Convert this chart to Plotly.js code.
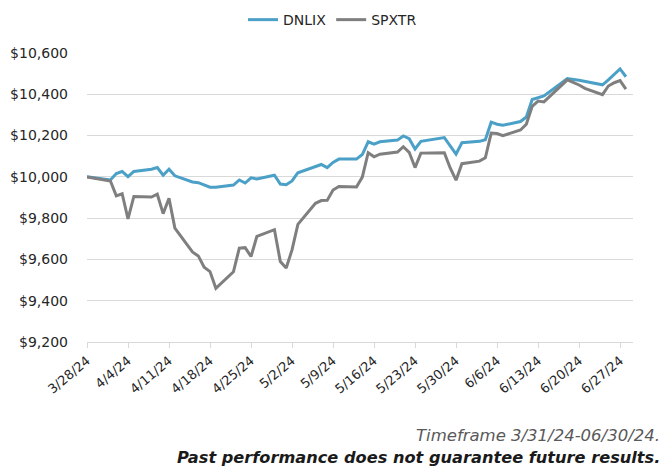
<!DOCTYPE html>
<html>
<head>
<meta charset="utf-8">
<script src="https://cdn.plot.ly/plotly-3.0.1.min.js"></script>
<style>
  html, body { margin: 0; padding: 0; background: #ffffff; }
  #chart { width: 665px; height: 466px; }
</style>
</head>
<body>
<div id="chart"></div>
<script>
var dates = [
  "2024-03-28",
  "2024-04-01","2024-04-02","2024-04-03","2024-04-04","2024-04-05",
  "2024-04-08","2024-04-09","2024-04-10","2024-04-11","2024-04-12",
  "2024-04-15","2024-04-16","2024-04-17","2024-04-18","2024-04-19",
  "2024-04-22","2024-04-23","2024-04-24","2024-04-25","2024-04-26",
  "2024-04-29","2024-04-30","2024-05-01","2024-05-02","2024-05-03",
  "2024-05-06","2024-05-07","2024-05-08","2024-05-09","2024-05-10",
  "2024-05-13","2024-05-14","2024-05-15","2024-05-16","2024-05-17",
  "2024-05-20","2024-05-21","2024-05-22","2024-05-23","2024-05-24",
  "2024-05-28","2024-05-29","2024-05-30","2024-05-31",
  "2024-06-03","2024-06-04","2024-06-05","2024-06-06","2024-06-07",
  "2024-06-10","2024-06-11","2024-06-12","2024-06-13","2024-06-14",
  "2024-06-17","2024-06-18","2024-06-20","2024-06-21",
  "2024-06-24","2024-06-25","2024-06-26","2024-06-27","2024-06-28"
];

var dnlix = [
  10000,
  9985, 10016, 10026, 10001, 10026,
  10037, 10045, 10008, 10037, 10005,
  9975, 9972, 9960, 9950, 9950,
  9960, 9985, 9970, 9995, 9990,
  10008, 9965, 9962, 9980, 10020,
  10048, 10060, 10045, 10070, 10086,
  10086, 10108, 10170, 10158, 10170,
  10178, 10198, 10185, 10135, 10172,
  10190, 10150, 10110, 10165,
  10172, 10180, 10265, 10255, 10250,
  10268, 10290, 10375, 10385, 10392,
  10455, 10476, 10468, 10462,
  10446, 10470, 10495, 10523, 10485
];

var spxtr = [
  10000,
  9980, 9908, 9918, 9796, 9905,
  9902, 9916, 9822, 9896, 9752,
  9636, 9617, 9562, 9541, 9460,
  9540, 9655, 9657, 9614, 9712,
  9744, 9590, 9558, 9646, 9770,
  9872, 9885, 9886, 9936, 9953,
  9951, 9999, 10117, 10097, 10110,
  10120, 10146, 10119, 10045, 10115,
  10117, 10043, 9984, 10064,
  10076, 10092, 10212, 10210, 10200,
  10227, 10255, 10342, 10367, 10363,
  10444, 10470, 10445, 10429,
  10398, 10440, 10456, 10466, 10425
];

var tickDates = ["2024-03-28","2024-04-04","2024-04-11","2024-04-18","2024-04-25",
  "2024-05-02","2024-05-09","2024-05-16","2024-05-23","2024-05-30",
  "2024-06-06","2024-06-13","2024-06-20","2024-06-27"];
var tickLabels = ["3/28/24","4/4/24","4/11/24","4/18/24","4/25/24",
  "5/2/24","5/9/24","5/16/24","5/23/24","5/30/24",
  "6/6/24","6/13/24","6/20/24","6/27/24"];

var yTicks = [9200, 9400, 9600, 9800, 10000, 10200, 10400, 10600];
var yLabels = ["$9,200","$9,400","$9,600","$9,800","$10,000","$10,200","$10,400","$10,600"];

var seriesNames = ["DNLIX", "SPXTR"];

var FONT = "DejaVu Sans, sans-serif";

var traces = [
  {
    x: dates, y: dnlix, name: seriesNames[0], type: "scatter", mode: "lines",
    line: { color: "#4BA0C8", width: 3 }
  },
  {
    x: dates, y: spxtr, name: seriesNames[1], type: "scatter", mode: "lines",
    line: { color: "#7F7F7F", width: 3 }
  }
];

var layout = {
  width: 665, height: 466,
  paper_bgcolor: "#ffffff", plot_bgcolor: "#ffffff",
  margin: { l: 87, r: 32, t: 53, b: 124, pad: 0 },
  font: { family: FONT, size: 13, color: "#262626" },
  showlegend: true,
  legend: {
    orientation: "h",
    xref: "container", yref: "container",
    x: 0.5, xanchor: "center",
    y: 0.957, yanchor: "middle",
    font: { family: FONT, size: 14, color: "#262626" },
    itemwidth: 30,
    traceorder: "normal"
  },
  xaxis: {
    type: "date",
    range: ["2024-03-28", "2024-06-29 05:00"],
    tickmode: "array",
    tickvals: tickDates,
    ticktext: tickLabels,
    tickangle: -40,
    tickfont: { family: FONT, size: 13, color: "#262626" },
    showgrid: false,
    showline: true, linecolor: "#d9d9d9", linewidth: 1,
    ticks: "outside", ticklen: 5, tickcolor: "#d9d9d9", tickwidth: 1,
    zeroline: false, fixedrange: true
  },
  yaxis: {
    range: [9200, 10600],
    tickmode: "array",
    tickvals: yTicks,
    ticktext: yLabels,
    tickfont: { family: FONT, size: 14, color: "#262626" },
    showgrid: true, gridcolor: "#d9d9d9", gridwidth: 1,
    showline: false, zeroline: false,
    ticks: "", ticklabelstandoff: 18,
    fixedrange: true
  },
  annotations: [
    {
      xref: "paper", yref: "paper",
      x: 1.053, y: -0.322, xanchor: "right", yanchor: "middle",
      text: "Timeframe 3/31/24-06/30/24.",
      showarrow: false,
      font: { family: FONT, size: 16.5, color: "#595959", style: "italic", weight: 300 }
    },
    {
      xref: "paper", yref: "paper",
      x: 1.053, y: -0.398, xanchor: "right", yanchor: "middle",
      text: "Past performance does not guarantee future results.",
      showarrow: false,
      font: { family: FONT, size: 16.2, color: "#1a1a1a", style: "italic", weight: 700 }
    }
  ]
};

Plotly.newPlot("chart", traces, layout, { displayModeBar: false, staticPlot: true });
</script>
</body>
</html>
